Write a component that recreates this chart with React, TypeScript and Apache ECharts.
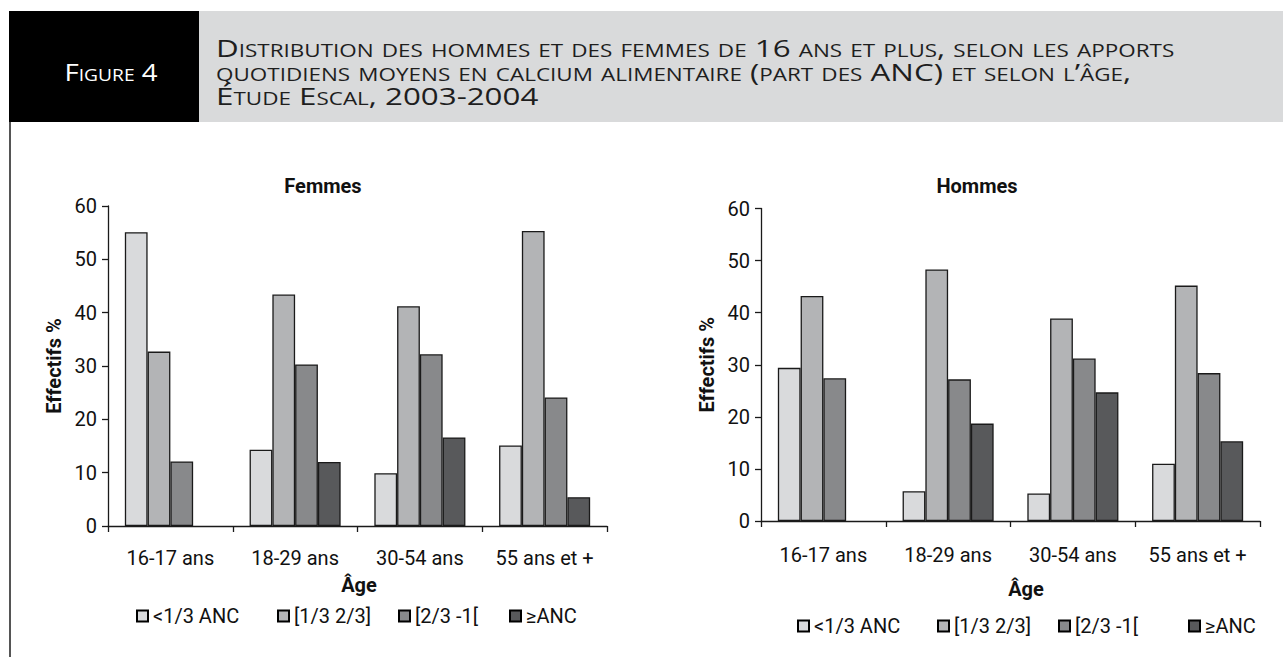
import React, { useEffect, useRef } from "react";
import * as echarts from "echarts";

const categories = ["16-17 ans", "18-29 ans", "30-54 ans", "55 ans et +"];
const legendNames = ["<1/3 ANC", "[1/3 2/3]", "[2/3 -1[", "≥ANC"];
const yTicks = { min: 0, max: 60, interval: 10 };

// Femmes
const femmesLt13 = [55.1, 14.3, 9.9, 15.1];
const femmes13to23 = [32.7, 43.4, 41.2, 55.3];
const femmes23to1 = [12.1, 30.3, 32.2, 24.1];
const femmesGeAnc = [null, 12.0, 16.6, 5.4];

// Hommes
const hommesLt13 = [29.4, 5.7, 5.3, 11.0];
const hommes13to23 = [43.2, 48.3, 38.9, 45.2];
const hommes23to1 = [27.4, 27.2, 31.2, 28.4];
const hommesGeAnc = [null, 18.7, 24.7, 15.3];

const titleLines = [
  "Distribution des hommes et des femmes de 16 ans et plus, selon les apports",
  "quotidiens moyens en calcium alimentaire (part des ANC) et selon l’âge,",
  "Étude Escal, 2003-2004",
];

const colors = ["#d9dadc", "#b3b4b6", "#88898b", "#58595b"];
const FONT = "Roboto";
const INK = "#111";

export default function App() {
  const ref = useRef<HTMLDivElement>(null);
  useEffect(() => {
    if (!ref.current) return;
    const chart = echarts.init(ref.current, undefined, { renderer: "svg" });
    const panels = [
      { data: [femmesLt13, femmes13to23, femmes23to1, femmesGeAnc], grid: { left: 108, top: 206, width: 499, height: 320 }, labelMargin: 22 },
      { data: [hommesLt13, hommes13to23, hommes23to1, hommesGeAnc], grid: { left: 761, top: 208.5, width: 499, height: 312.5 }, labelMargin: 24 },
    ];
    const axisLine = { show: true, lineStyle: { color: "#1a1a1a", width: 1.3 } };
    const axisTick = { show: true, length: 6, lineStyle: { color: "#1a1a1a", width: 1.3 } };

    const series: any[] = [];
    panels.forEach((p, i) => {
      p.data.forEach((d, k) => {
        series.push({
          type: "bar",
          name: legendNames[k],
          xAxisIndex: i,
          yAxisIndex: i,
          data: d,
          barGap: "0%",
          barCategoryGap: "27%",
          itemStyle: { color: colors[k], borderColor: "#1a1a1a", borderWidth: 1.3 },
        });
      });
    });

    const legendLefts = [
      [131, 272, 393, 504],
      [792, 932, 1053, 1183],
    ];
    const legendTops = [601, 611];
    const legends: any[] = [];
    legendLefts.forEach((row, i) =>
      row.forEach((left, k) =>
        legends.push({
          left,
          top: legendTops[i],
          data: [legendNames[k]],
          icon: "rect",
          itemWidth: 11,
          itemHeight: 11,
          selectedMode: false,
          itemStyle: { borderColor: "#000", borderWidth: 2 },
          textStyle: { fontSize: 20, color: INK, fontFamily: FONT },
        })
      )
    );

    const titleFont = "small-caps 400 24px 'Open Sans'";
    const graphic: any[] = [
      { type: "rect", shape: { x: 199, y: 11, width: 1084, height: 111 }, style: { fill: "#d9dadb" } },
      { type: "rect", shape: { x: 9, y: 11, width: 190, height: 111 }, style: { fill: "#000" } },
      { type: "line", shape: { x1: 10, y1: 122, x2: 10, y2: 657 }, style: { stroke: "#555", lineWidth: 2 } },
      { type: "text", x: 111, y: 72, scaleX: 1.15, style: { text: "Figure 4", x: 0, y: 0, textAlign: "center", textVerticalAlign: "middle", font: titleFont, fill: "#fff" } },
      ...titleLines.map((t, i) => ({
        type: "text",
        x: 216,
        y: 48 + i * 24,
        scaleX: 1.305,
        style: { text: t, x: 0, y: 0, textAlign: "left", textVerticalAlign: "middle", font: titleFont, fill: "#1e1e1e" },
      })),
      { type: "text", style: { text: "Femmes", x: 323, y: 186, textAlign: "center", textVerticalAlign: "middle", fontSize: 20, fontWeight: "bold", fontFamily: FONT, fill: INK } },
      { type: "text", style: { text: "Hommes", x: 977, y: 186, textAlign: "center", textVerticalAlign: "middle", fontSize: 20, fontWeight: "bold", fontFamily: FONT, fill: INK } },
      { type: "text", style: { text: "Âge", x: 359, y: 585, textAlign: "center", textVerticalAlign: "middle", fontSize: 20, fontWeight: "bold", fontFamily: FONT, fill: INK } },
      { type: "text", style: { text: "Âge", x: 1026, y: 589, textAlign: "center", textVerticalAlign: "middle", fontSize: 20, fontWeight: "bold", fontFamily: FONT, fill: INK } },
    ];

    chart.setOption({
      animation: false,
      textStyle: { fontFamily: FONT },
      grid: panels.map((p) => p.grid),
      xAxis: panels.map((p, i) => ({
        type: "category",
        gridIndex: i,
        data: categories,
        axisLine,
        axisTick,
        axisLabel: { interval: 0, fontSize: 20, color: INK, margin: p.labelMargin, fontFamily: FONT },
      })),
      yAxis: panels.map((p, i) => ({
        type: "value",
        gridIndex: i,
        min: yTicks.min,
        max: yTicks.max,
        interval: yTicks.interval,
        name: "Effectifs %",
        nameLocation: "middle",
        nameGap: 44,
        nameTextStyle: { fontSize: 20, fontWeight: "bold", color: INK, fontFamily: FONT },
        axisLine,
        axisTick,
        splitLine: { show: false },
        axisLabel: { fontSize: 20, color: INK, margin: 11, fontFamily: FONT },
      })),
      legend: legends,
      series,
      graphic,
    });
    return () => chart.dispose();
  }, []);
  return <div ref={ref} style={{ position: "absolute", left: 0, top: 0, width: 1283, height: 657 }} />;
}
